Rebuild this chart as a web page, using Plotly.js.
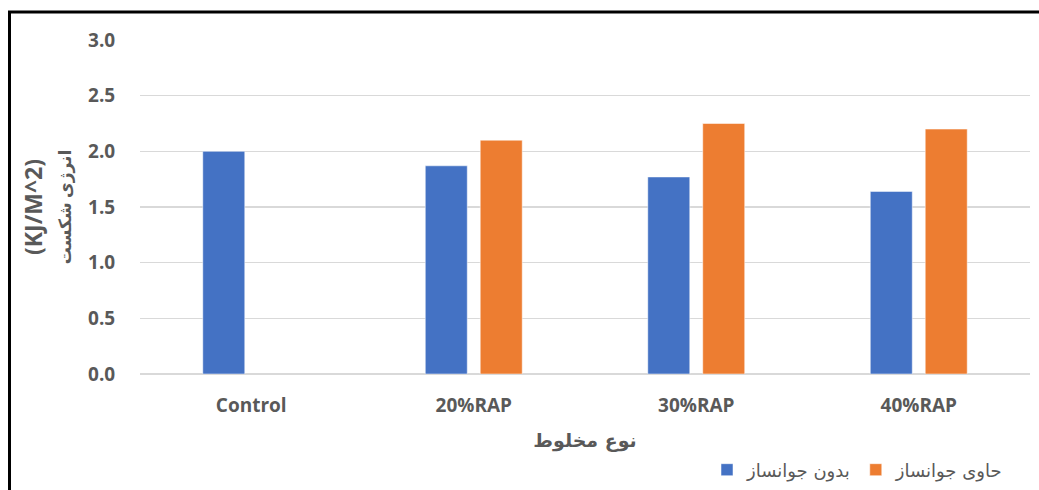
<!DOCTYPE html>
<html>
<head>
<meta charset="utf-8">
<script src="https://cdn.plot.ly/plotly-3.0.1.min.js"></script>
<style>
html,body{margin:0;padding:0;background:#fff;}
#chart{width:1039px;height:490px;}
</style>
</head>
<body>
<div id="chart"></div>
<script>
const categories = ["Control", "20%RAP", "30%RAP", "40%RAP"];
const seriesNames = ["بدون جوانساز", "حاوی جوانساز"];
const withoutRejuvenator = [2.0, 1.87, 1.77, 1.64];
const withRejuvenator = [null, 2.10, 2.25, 2.20];
const yTickValues = [0, 0.5, 1.0, 1.5, 2.0, 2.5, 3.0];
const yTickLabels = ["0.0", "0.5", "1.0", "1.5", "2.0", "2.5", "3.0"];
const xTitle = "نوع مخلوط";
const yTitleLine1 = "(KJ/M^2)";
const yTitleLine2 = "انرژی شکست";

const W = 1039, H = 490;
const L = 140, R = 9, T = 40, B = 116;
const pw = W - L - R, ph = H - T - B;
const px = v => (v - L) / pw;
const py = v => (H - B - v) / ph;

const grey = "#595959";
const data = [
  {
    type: "bar", name: seriesNames[0], x: categories, y: withoutRejuvenator,
    marker: {color: "#4472C4", line: {color: "rgba(255,255,255,0.5)", width: 1}}
  },
  {
    type: "bar", name: seriesNames[1], x: categories, y: withRejuvenator,
    marker: {color: "#ED7D31", line: {color: "rgba(255,255,255,0.5)", width: 1}}
  }
];

const layout = {
  width: W, height: H,
  margin: {l: L, r: R, t: T, b: B, autoexpand: false},
  paper_bgcolor: "#fff", plot_bgcolor: "#fff",
  barmode: "group", bargap: 0.506, bargroupgap: 0.236,
  showlegend: true,
  legend: {
    orientation: "h", x: px(1008), xanchor: "right", y: py(470), yanchor: "middle",
    font: {family: "DejaVu Sans, Liberation Sans, sans-serif", size: 18, color: grey},
    traceorder: "normal", itemwidth: 30
  },
  xaxis: {
    type: "category", automargin: false,
    showgrid: false, showline: false, zeroline: false,
    ticks: "outside", ticklen: 14, tickcolor: "rgba(0,0,0,0)",
    tickfont: {family: "Open Sans, sans-serif", size: 19, color: grey, weight: "bold"},
    title: {text: xTitle, standoff: 16,
      font: {family: "DejaVu Sans, sans-serif", size: 19, color: grey, weight: "bold"}}
  },
  yaxis: {
    range: [0, 3], automargin: false,
    tickvals: yTickValues, ticktext: yTickLabels,
    showgrid: true, gridcolor: "#D9D9D9", gridwidth: 1.5,
    zeroline: true, zerolinecolor: "#D9D9D9", zerolinewidth: 1.5,
    showline: false,
    ticks: "outside", ticklen: 20, tickcolor: "rgba(0,0,0,0)",
    tickfont: {family: "Open Sans, sans-serif", size: 19, color: grey, weight: "bold"},
    title: {text: yTitleLine1 + "<br><span style='font-size:17px'>" + yTitleLine2 + "</span>", standoff: 9,
      font: {family: "Open Sans, DejaVu Sans, sans-serif", size: 23, color: grey, weight: "bold"}}
  },
  shapes: [
    {type: "line", xref: "paper", yref: "paper", x0: px(8), x1: px(1039), y0: py(12), y1: py(12),
      line: {color: "#000", width: 3}},
    {type: "line", xref: "paper", yref: "paper", x0: px(9.5), x1: px(9.5), y0: py(11), y1: py(490),
      line: {color: "#000", width: 3}}
  ]
};

Plotly.newPlot("chart", data, layout, {displayModeBar: false, staticPlot: true});
</script>
</body>
</html>
